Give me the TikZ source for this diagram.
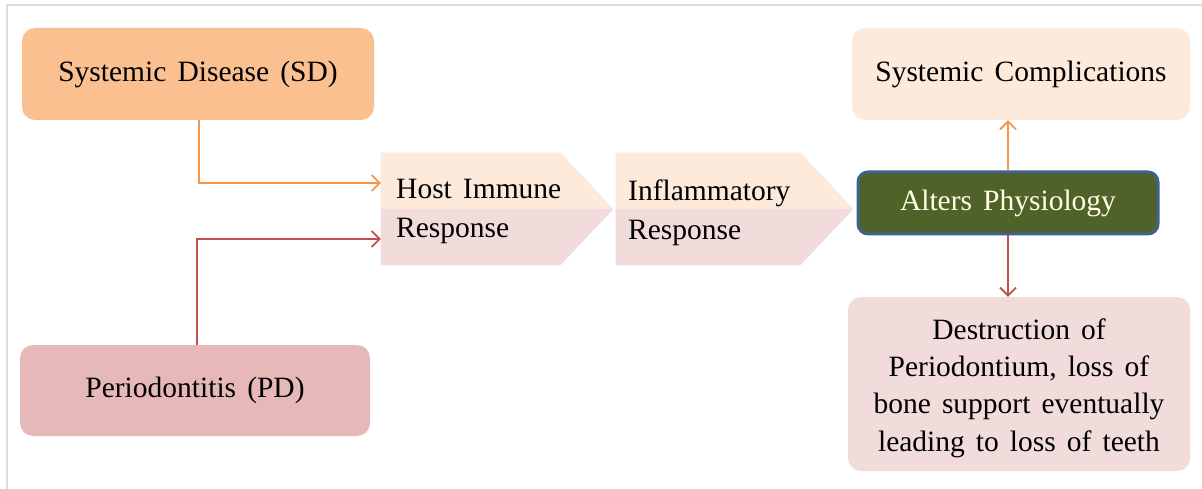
\documentclass[tikz,border=0pt]{standalone}
\usepackage{fontspec}
\setmainfont{Liberation Serif}[WordSpace=1.5]
\usetikzlibrary{arrows.meta,calc}

\definecolor{sdfill}{HTML}{FAC090}
\definecolor{pdfill}{HTML}{E6B9B8}
\definecolor{peach}{HTML}{FDEADA}
\definecolor{rose}{HTML}{F2DCDB}
\definecolor{olive}{HTML}{4F6228}
\definecolor{steel}{HTML}{3F6391}
\definecolor{orangeline}{HTML}{F79646}
\definecolor{redline}{HTML}{C0504D}
\definecolor{cream}{HTML}{FFFFE8}
\definecolor{framegray}{HTML}{DCDCDC}

\begin{document}
\begin{tikzpicture}[x=1pt,y=-1pt,
  every node/.style={font=\fontsize{29.5}{37.2}\selectfont, inner sep=0pt},
  box/.style={rounded corners=13pt, align=center},
  body/.style={minimum height=112pt},
  label/.style={anchor=base west},
  flowA/.style={draw=orangeline, line width=1.8pt, -{Straight Barb[length=8pt,width=16pt,line width=1.8pt]}},
  flowB/.style={draw=redline, line width=1.8pt, -{Straight Barb[length=8pt,width=16pt,line width=1.8pt]}},
]
\useasboundingbox (0,0) rectangle (1202,489);

% outer frame
\draw[framegray, line width=1.3pt] (7,489) -- (7,5) -- (1202,5);

% sources
\node[box, fill=sdfill, minimum width=352pt, minimum height=92pt] (sd) at (198,74) {\raisebox{-3pt}{Systemic Disease (SD)}};
\node[box, fill=pdfill, minimum width=350pt, minimum height=91pt] (pd) at (195,390.5) {\raisebox{-3pt}{Periodontitis (PD)}};

% chevron bodies (rectangular part, the point is added when drawing)
\node[body, minimum width=179pt] (hir) at (470.5,209) {};
\node[body, minimum width=184pt] (ir) at (708,209) {};

\foreach \c in {hir,ir}{
  \path[fill=black!40, opacity=.4, shift={(1.5,3.5)}]
    (\c.north west) -- (\c.north east) -- ($(\c.east)+(53,0)$)
    -- (\c.south east) -- (\c.south west) -- cycle;
  \path[fill=peach] (\c.north west) -- (\c.north east) -- ($(\c.east)+(53,0)$)
    -- (\c.west) -- cycle;
  \path[fill=rose] (\c.west) -- ($(\c.east)+(53,0)$)
    -- (\c.south east) -- (\c.south west) -- cycle;
}
\node[label] (hirtop) at (396,199) {Host Immune};
\node[label] (hirbot) at (396,237) {Response};
\node[label] (irtop) at (628,201) {Inflammatory};
\node[label] (irbot) at (628,240) {Response};

% outcomes
\node[box, rounded corners=10pt, fill=olive, draw=steel, line width=3pt,
      text=cream, minimum width=300pt, minimum height=62pt] (ap) at (1008,203) {\raisebox{-3pt}{Alters Physiology}};
\node[box, fill=peach, minimum width=338pt, minimum height=92pt] (sc) at (1021,74) {\raisebox{-3pt}{Systemic Complications}};
\node[box, fill=rose, minimum width=342pt, minimum height=174pt] (dest) at (1019,384) {};
\node[align=center] (desttext) at ([yshift=-4pt]dest.center)
  {Destruction of\\Periodontium, loss of\\bone support eventually\\leading to loss of teeth};

% connectors
\draw[flowA] ([xshift=1pt]sd.south) |- ($(hir.west)+(0,-26)$);
\draw[flowB] ([xshift=2pt]pd.north) |- ($(hir.west)+(0,30)$);
\draw[flowA] (ap.north) -- (ap.north |- sc.south);
\draw[flowB] (ap.south) -- (ap.south |- dest.north);
\end{tikzpicture}
\end{document}
